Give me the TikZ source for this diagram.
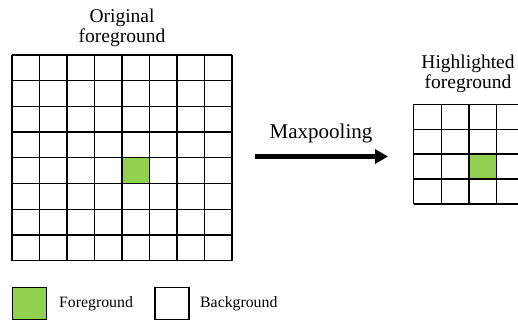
\documentclass[tikz,border=0pt]{standalone}
\usepackage{fontspec}
\setmainfont{Liberation Serif}
\newfontfamily\tnr{Liberation Serif}
\usetikzlibrary{arrows.meta}
\definecolor{fg}{HTML}{92D050}
\begin{document}
\begin{tikzpicture}[x=1pt,y=-1pt,
  gridline/.style={line width=1.3pt,black},
  title/.style={align=center,inner sep=0pt,font=\tnr\fontsize{19.5}{20.5}\selectfont},
  legtext/.style={anchor=west,inner sep=0pt,font=\tnr\fontsize{15.8}{17}\selectfont},
  legbox/.style={draw=black,line width=1.6pt,minimum width=34pt,minimum height=32pt,inner sep=0pt}]
\useasboundingbox (0,0) rectangle (518,323);
\clip (0,0) rectangle (518,323);
% left grid
\fill[fg] (122,157.8) rectangle (149.5,183.5);
\foreach \i in {0,...,8} {
  \draw[gridline] (12+27.5*\i,55) -- (12+27.5*\i,260.6);
  \draw[gridline] (12,55+25.7*\i) -- (232,55+25.7*\i);
}
\node[title] (t1) at (122,28) {Original\\foreground};
% right grid
\fill[fg] (468.9,154.1) rectangle (496.6,179);
\foreach \i in {0,...,4} {
  \draw[gridline] (413.5+27.7*\i,104.3) -- (413.5+27.7*\i,203.9);
  \draw[gridline] (413.5,104.3+24.9*\i) -- (524.3,104.3+24.9*\i);
}
\node[title] (t2) at (468,74) {Highlighted\\foreground};
% arrow
\coordinate (as) at (255,156.5);
\coordinate (ae) at (388,156.5);
\draw[line width=4.5pt,-{Triangle[length=13pt,width=14pt]}] (as) -- (ae);
\node[inner sep=0pt,font=\tnr\fontsize{21}{22}\selectfont] (mp) at (321,133) {Maxpooling};
% legend
\node[legbox,fill=fg] (lg1) at (29.5,303.5) {};
\node[legtext] (lt1) at (59,304) {Foreground};
\node[legbox,fill=white] (lg2) at (172,303.5) {};
\node[legtext] (lt2) at (200,304) {Background};
\end{tikzpicture}
\end{document}
